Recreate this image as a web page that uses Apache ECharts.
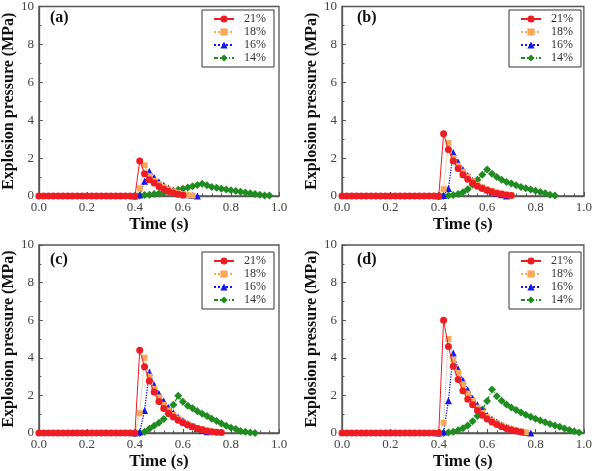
<!DOCTYPE html>
<html>
<head>
<meta charset="utf-8">
<script src="https://cdn.jsdelivr.net/npm/echarts@6/dist/echarts.min.js"></script>
<style>html,body{margin:0;padding:0;background:#fff;}#c{width:595px;height:471px;}</style>
</head>
<body>
<div id="c"></div>
<script>
// Time (s)
const time = [0.00,0.02,0.04,0.06,0.08,0.10,0.12,0.14,0.16,0.18,
              0.20,0.22,0.24,0.26,0.28,0.30,0.32,0.34,0.36,0.38,
              0.40,0.42,0.44,0.46,0.48,0.50,0.52,0.54,0.56,0.58,
              0.60,0.62,0.64,0.66,0.68,0.70,0.72,0.74,0.76,0.78,
              0.80,0.82,0.84,0.86,0.88,0.90,0.92,0.94,0.96,0.98,1.00];
const seriesNames = ['21%','18%','16%','14%'];
const panelLabels = ['(a)','(b)','(c)','(d)'];
const xTicks = [0.0,0.2,0.4,0.6,0.8,1.0];
const yTicks = [0,2,4,6,8,10];
const N = null;
// Panel (a)
const a21 = [0,0,0,0,0,0,0,0,0,0,0,0,0,0,0,0,0,0,0,0,0,
             1.85,1.18,0.86,0.68,0.50,0.36,0.25,0.16,0.09,0.04];
const a18 = [N,N,N,N,N,N,N,N,N,N,N,N,N,N,N,N,N,N,N,N,0,
             0.40,1.62,1.05,0.80,0.62,0.47,0.35,0.25,0.17,0.10,0.05,0.02];
const a16 = [N,N,N,N,N,N,N,N,N,N,N,N,N,N,N,N,N,N,N,N,0,
             0.05,0.78,1.30,0.98,0.75,0.57,0.42,0.30,0.20,0.13,0.07,0.03,0.00];
const a14 = [N,N,N,N,N,N,N,N,N,N,N,N,N,N,N,N,N,N,N,N,0,
             0.02,0.05,0.07,0.10,0.13,0.17,0.22,0.27,0.33,0.38,0.45,0.52,0.58,0.65,
             0.57,0.48,0.43,0.38,0.34,0.31,0.26,0.22,0.19,0.14,0.10,0.07,0.03,0.02];
// Panel (b)
const b21 = [0,0,0,0,0,0,0,0,0,0,0,0,0,0,0,0,0,0,0,0,0,
             3.28,2.45,1.85,1.45,1.12,0.88,0.68,0.52,0.40,0.30,0.22,0.15,0.10,0.05,0.02];
const b18 = [N,N,N,N,N,N,N,N,N,N,N,N,N,N,N,N,N,N,N,N,0,
             0.36,2.80,2.00,1.60,1.28,1.00,0.78,0.60,0.46,0.35,0.26,0.18,0.12,0.07,0.03];
const b16 = [N,N,N,N,N,N,N,N,N,N,N,N,N,N,N,N,N,N,N,N,0,
             0.02,0.40,2.30,1.80,1.40,1.08,0.82,0.62,0.46,0.33,0.22,0.13,0.06,0.00];
const b14 = [N,N,N,N,N,N,N,N,N,N,N,N,N,N,N,N,N,N,N,N,0,
             0.00,0.02,0.05,0.10,0.20,0.36,0.59,0.86,1.12,1.40,
             1.17,1.00,0.86,0.74,0.66,0.57,0.48,0.41,0.34,0.28,0.21,0.14,0.07,0.02];
// Panel (c)
const c21 = [0,0,0,0,0,0,0,0,0,0,0,0,0,0,0,0,0,0,0,0,0,
             4.40,3.53,2.77,2.18,1.68,1.30,1.05,0.85,0.68,0.55,0.43,0.33,0.24,0.17,0.11,0.07,0.04,0.02];
const c18 = [N,N,N,N,N,N,N,N,N,N,N,N,N,N,N,N,N,N,N,N,0,
             1.05,4.00,3.00,2.35,1.90,1.50,1.20,0.96,0.77,0.60,0.47,0.36,0.27,0.20,0.13,0.08,0.04];
const c16 = [N,N,N,N,N,N,N,N,N,N,N,N,N,N,N,N,N,N,N,N,0,
             0.05,1.20,3.25,2.57,2.10,1.70,1.35,1.08,0.85,0.66,0.50,0.36,0.24,0.14,0.06];
const c14 = [N,N,N,N,N,N,N,N,N,N,N,N,N,N,N,N,N,N,N,N,0,
             0.00,0.07,0.22,0.38,0.55,0.75,1.02,1.50,1.98,
             1.66,1.45,1.31,1.16,1.02,0.90,0.76,0.64,0.50,0.38,0.28,0.21,0.10,0.07,0.03,0.00];
// Panel (d)
const d21 = [0,0,0,0,0,0,0,0,0,0,0,0,0,0,0,0,0,0,0,0,0,
             6.00,4.60,3.55,2.85,2.25,1.80,1.50,1.20,0.95,0.75,0.58,0.45,0.33,0.24,0.16,0.10,0.05];
const d18 = [N,N,N,N,N,N,N,N,N,N,N,N,N,N,N,N,N,N,N,N,0,
             0.55,5.00,3.90,3.20,2.60,2.10,1.70,1.35,1.07,0.85,0.67,0.52,0.40,0.30,0.21,0.14,0.08,0.03];
const d16 = [N,N,N,N,N,N,N,N,N,N,N,N,N,N,N,N,N,N,N,N,0,
             0.05,1.72,4.25,3.40,2.80,2.30,1.85,1.50,1.20,0.95,0.75,0.58,0.44,0.32,0.22,0.14,0.08,0.03,0.00];
const d14 = [N,N,N,N,N,N,N,N,N,N,N,N,N,N,N,N,N,N,N,N,0,
             0.00,0.03,0.07,0.14,0.25,0.40,0.62,0.90,1.25,1.70,2.32,
             1.95,1.71,1.52,1.36,1.22,1.09,0.97,0.86,0.76,0.66,0.57,0.48,0.40,0.33,0.24,0.16,0.09,0.02];

const panels = [[a21,a18,a16,a14],[b21,b18,b16,b14],[c21,c18,c16,c14],[d21,d18,d16,d14]];

const FONT = 'Liberation Serif';
const grids = [
  {left:35, top:3, width:244, height:193},
  {left:342, top:3, width:244, height:193},
  {left:35, top:245, width:244, height:193},
  {left:342, top:245, width:244, height:193}
];
const styles = [
  {color:'#ee1d23', symbol:'circle', size:7, type:'solid', width:1},
  {color:'#f9a857', symbol:'rect', size:6, type:'dotted', width:1},
  {color:'#1515f0', symbol:'triangle', size:7, type:'dotted', width:1.3},
  {color:'#1f8c1f', symbol:'diamond', size:8, type:[4,2,1,2], width:1.2}
];

function toPairs(vals){
  const out = [];
  for (let i=0;i<vals.length;i++){ if (vals[i]!==null && vals[i]!==undefined) out.push([time[i], vals[i]]); }
  return out;
}

const option = {
  backgroundColor:'#fff',
  animation:false,
  grid: grids.map(g=>Object.assign({show:true, borderColor:'#555', borderWidth:1.3, backgroundColor:'transparent'}, g)),
  xAxis: grids.map((g,i)=>({
    type:'value', gridIndex:i, min:xTicks[0], max:xTicks[xTicks.length-1], interval:0.2,
    name:'Time (s)', nameLocation:'middle', nameGap:20,
    nameTextStyle:{fontFamily:FONT, fontWeight:'bold', fontSize:17, color:'#111'},
    axisLine:{lineStyle:{color:'#555', width:1.3}},
    axisTick:{inside:true, length:4, lineStyle:{color:'#555'}},
    minorTick:{show:true, splitNumber:5, length:2.5, lineStyle:{color:'#555'}},
    axisLabel:{fontFamily:FONT, fontSize:13, color:'#444', margin:5, formatter:v=>v.toFixed(1)},
    splitLine:{show:false}
  })),
  yAxis: grids.map((g,i)=>({
    type:'value', gridIndex:i, min:yTicks[0], max:yTicks[yTicks.length-1], interval:2,
    name:'Explosion pressure (MPa)', nameLocation:'middle', nameGap:21,
    nameTextStyle:{fontFamily:FONT, fontWeight:'bold', fontSize:16, color:'#111'},
    axisLine:{show:true, lineStyle:{color:'#555', width:1.3}},
    axisTick:{show:true, inside:true, length:4, lineStyle:{color:'#555'}},
    minorTick:{show:true, splitNumber:2, length:2.5, lineStyle:{color:'#555'}},
    axisLabel:{fontFamily:FONT, fontSize:13, color:'#444', margin:5},
    splitLine:{show:false}
  })),
  legend: grids.map((g,i)=>({
    data:seriesNames.map(n=>n+'\u200b'.repeat(i)),
    orient:'vertical', left:g.left+167, top:g.top+7,
    borderColor:'#333', borderWidth:1, padding:[3,8,3,11],
    itemWidth:20, itemHeight:9, itemGap:1,
    textStyle:{fontFamily:FONT, fontSize:12, color:'#333', lineHeight:12, padding:[0,0,0,5]},
    selectedMode:false
  })),
  graphic: grids.map((g,i)=>({
    type:'text', left:g.left+15, top:g.top+7,
    style:{text:panelLabels[i], font:'bold 16px "Liberation Serif"', fill:'#111'}
  })),
  series: []
};

for (let p=0;p<4;p++){
  for (let k=3;k>=0;k--){
    const s = styles[k];
    option.series.push({
      type:'line', name:seriesNames[k]+'\u200b'.repeat(p),
      xAxisIndex:p, yAxisIndex:p,
      data:toPairs(panels[p][k]),
      symbol:s.symbol, symbolSize:s.size, showSymbol:true,
      itemStyle:{color:s.color},
      lineStyle:{color:s.color, type:s.type, width:s.width},
      z: 2 + (3-k)
    });
  }
}

const chart = echarts.init(document.getElementById('c'), null, {renderer:'canvas'});
chart.setOption(option);
</script>
</body>
</html>
